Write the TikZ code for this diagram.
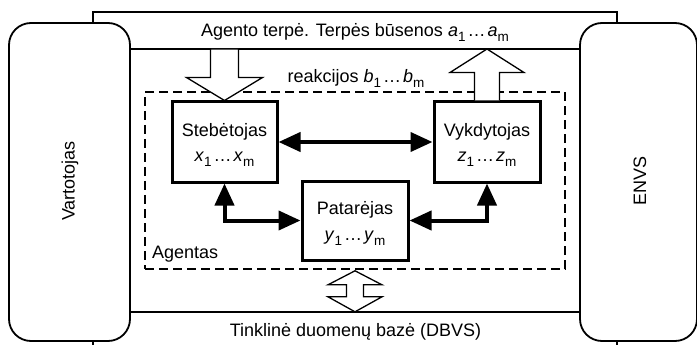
\documentclass[tikz,border=0pt]{standalone}
\usepackage{fontspec}
\setmainfont{Liberation Sans}
\usetikzlibrary{arrows.meta,calc}
\newcommand\subx[1]{\raisebox{-5pt}{\fontsize{13.5}{13.5}\selectfont #1}}
\newcommand\ivar[1]{\textit{#1}}
\newcommand\dotsx{\kern2pt…\kern2pt}
\begin{document}
\begin{tikzpicture}[x=1pt,y=-1pt,
  frame/.style={line width=2pt},
  roundbox/.style={draw, line width=1.8pt, rounded corners=22pt, fill=white, inner sep=0pt},
  agentbox/.style={draw, line width=3pt, fill=white, minimum width=105pt, minimum height=80pt, align=center, inner sep=0pt, font=\fontsize{18}{25.5}\selectfont},
  conn/.style={line width=4pt, {Triangle[length=22pt,width=19pt]}-{Triangle[length=22pt,width=19pt]}},
  hollow/.style={draw, fill=white, line width=1.3pt, line join=miter},
  agdash/.style={line width=1.6pt, dash pattern=on 9pt off 5pt},
  lbl/.style={font=\fontsize{18}{22}\selectfont, inner sep=0pt}]
\useasboundingbox (0,0) rectangle (697,345);
% outer frame
\draw[frame] (93,360) -- (93,12) -- (617,12) -- (617,360);
% side boxes
\node[roundbox, minimum width=121pt, minimum height=318pt] (vart) at (69.5,182) {};
\node[roundbox, minimum width=117pt, minimum height=318pt] (envs) at (638.5,182) {};
\node[lbl, rotate=90] (vartlbl) at (70,181) {Vartotojas};
\node[lbl, rotate=90] (envslbl) at (640,181) {ENVS};
% inner frame lines
\draw[frame] (vart.east |- 0,49) -- (envs.west |- 0,49);
\draw[frame] (vart.east |- 0,312) -- (envs.west |- 0,312);
% agent dashed area
\node[draw, agdash, minimum width=420pt, minimum height=177pt, inner sep=0pt] (agent) at (355,180.5) {};
\node[lbl, anchor=base west] (aglbl) at (152,258) {Agentas};
% components
\node[agentbox] (steb) at (224.5,142) {\rule{0pt}{19pt}Stebėtojas\\ \ivar{x}\subx{1}\dotsx\ivar{x}\subx{m}};
\node[agentbox, minimum width=106pt] (vyk) at (487,142) {\rule{0pt}{19pt}Vykdytojas\\ \ivar{z}\subx{1}\dotsx\ivar{z}\subx{m}};
\node[agentbox, minimum width=106pt, minimum height=79pt] (pat) at (355,220.5) {\rule{0pt}{19pt}Patarėjas\\ \ivar{y}\subx{1}\dotsx\ivar{y}\subx{m}};
% connectors
\draw[conn] (steb.east) -- (vyk.west);
\draw[conn] (steb.south) |- (pat.west);
\draw[conn] (pat.east) -| (vyk.south);
% hollow arrows
\draw[hollow, shift={(steb.north)}] (0,0) -- (-38,-23) -- (-14,-23) -- (-14,-51.5) -- (14,-51.5) -- (14,-23) -- (38,-23) -- cycle;
\draw[hollow, shift={(vyk.north)}] (-12.5,0) -- (-12.5,-28) -- (-37,-28) -- (0,-51.5) -- (37,-28) -- (12.5,-28) -- (12.5,0);
\draw[hollow, shift={(agent.south)}] (0,1) -- (27,15) -- (8.5,15) -- (8.5,27) -- (27,27) -- (0,42) -- (-27,27) -- (-8.5,27) -- (-8.5,15) -- (-27,15) -- cycle;
% labels
\node[lbl, anchor=base] (title) at (355,37) {Agento terpė. Terpės būsenos \ivar{a}\subx{1}\dotsx\ivar{a}\subx{m}};
\node[lbl, anchor=base] (react) at (356,83) {reakcijos \ivar{b}\subx{1}\dotsx\ivar{b}\subx{m}};
\node[lbl, anchor=base] (db) at (355.5,336) {Tinklinė duomenų bazė (DBVS)};
\end{tikzpicture}
\end{document}
